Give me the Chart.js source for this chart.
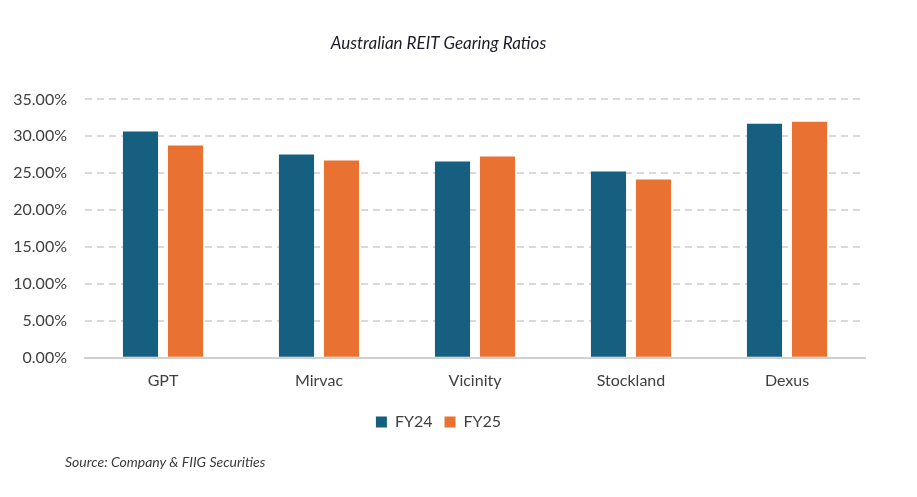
<!DOCTYPE html>
<html>
<head>
<meta charset="utf-8">
<script src="https://cdn.jsdelivr.net/npm/chart.js@4"></script>
<style>
  html,body{margin:0;padding:0;background:#fff;}
  #wrap{position:relative;width:917px;height:497px;}
  #source{position:absolute;left:65px;top:453px;font-family:Lato,sans-serif;font-style:italic;font-size:14px;color:#3a3a3a;}
</style>
</head>
<body>
<div id="wrap">
  <canvas id="gearingChart" width="917" height="497"></canvas>
  <div id="source">Source: Company &amp; FIIG Securities</div>
</div>
<script>
// dados
const reits=['GPT','Mirvac','Vicinity','Stockland','Dexus'];
const fy24=[30.64,27.53,26.58,25.23,31.70];
const fy25=[28.74,26.72,27.26,24.15,31.97];
const yTicks=[0,5,10,15,20,25,30,35];

const ctx=document.getElementById('gearingChart').getContext('2d');
new Chart(ctx,{
  type:'bar',
  data:{
    labels:reits,
    datasets:[
      {label:'FY24',data:fy24,backgroundColor:'#165f81'},
      {label:'FY25',data:fy25,backgroundColor:'#e97132'}
    ]
  },
  options:{
    responsive:false,
    animation:false,
    layout:{padding:{left:12,right:52,top:10,bottom:57}},
    datasets:{bar:{categoryPercentage:0.577,barPercentage:0.78}},
    plugins:{
      title:{
        display:true,
        text:'Australian REIT Gearing Ratios',
        color:'#1b1b2a',
        font:{family:'Lato',size:17,style:'italic',weight:'normal'},
        padding:{top:23,bottom:46}
      },
      legend:{
        position:'bottom',
        labels:{color:'#404040',font:{family:'Lato',size:16},boxWidth:11,boxHeight:11,padding:12}
      },
      tooltip:{enabled:false}
    },
    scales:{
      x:{
        grid:{display:false},
        border:{display:true,color:'#d0d0d0',width:2},
        afterFit:function(axis){axis.height+=7;},
        ticks:{color:'#404040',font:{family:'Lato',size:16},padding:5}
      },
      y:{
        min:0,max:35,
        afterBuildTicks:function(axis){axis.ticks=yTicks.map(v=>({value:v}));},
        afterFit:function(axis){axis.width=73;},
        grid:{
          drawTicks:false,
          lineWidth:2,
          color:function(c){return c.tick&&c.tick.value===0?'rgba(0,0,0,0)':'#d9d9d9';}
        },
        border:{display:false,dash:[7,5]},
        ticks:{color:'#404040',font:{family:'Lato',size:16},padding:18,callback:function(v){return v.toFixed(2)+'%';}}
      }
    }
  }
});
</script>
</body>
</html>
